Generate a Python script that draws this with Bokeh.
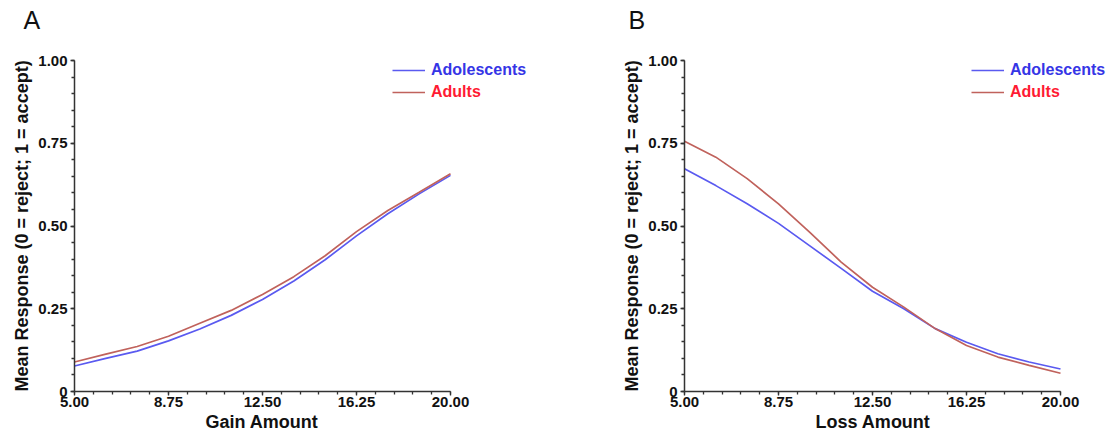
from bokeh.plotting import figure
from bokeh.models import (Legend, LegendItem, FixedTicker, CustomJSTickFormatter,
                          NumeralTickFormatter, Range1d, Title)
from bokeh.layouts import row
from bokeh.embed import file_html
from bokeh.resources import INLINE

# ---- data ----
amounts = [5.0, 6.25, 7.5, 8.75, 10.0, 11.25, 12.5, 13.75, 15.0, 16.25, 17.5, 18.75, 20.0]

gain_adolescents = [0.077, 0.100, 0.122, 0.153, 0.189, 0.230, 0.278, 0.334, 0.398, 0.470, 0.537, 0.597, 0.653]
gain_adults      = [0.089, 0.113, 0.136, 0.167, 0.206, 0.245, 0.293, 0.347, 0.410, 0.483, 0.547, 0.602, 0.658]

loss_adolescents = [0.673, 0.622, 0.567, 0.508, 0.440, 0.372, 0.303, 0.250, 0.190, 0.149, 0.114, 0.089, 0.068]
loss_adults      = [0.756, 0.708, 0.643, 0.567, 0.481, 0.391, 0.315, 0.255, 0.190, 0.139, 0.104, 0.079, 0.055]

x_ticks = [5.0, 8.75, 12.5, 16.25, 20.0]
x_minor = [5.0 + 0.75 * i for i in range(21)]
y_ticks = [0.0, 0.25, 0.5, 0.75, 1.0]
y_minor = [0.05 * i for i in range(21)]

series_names = ["Adolescents", "Adults"]
line_colors = ["#5a5af0", "#c0625c"]
label_colors = ["#3535e6", "#ff1a33"]

FONT = "Liberation Sans"
Y_TITLE = "Mean Response (0 = reject; 1 = accept)"

AXIS_PX = 376   # pixel length of the 5..20 axis
AXIS_H = 331    # pixel length of the 0..1 axis
TOP = 36        # frame top (pixels from canvas top)
BOTTOM_BORDER = 41


def make_panel(xtitle, blue, red, letter, border_left, extra_px, letter_dx, leg_x):
    width, height = 555, 432
    border_right = width - border_left - AXIS_PX - extra_px
    x_end = 20 + 15.0 * extra_px / AXIS_PX
    top_extra = height - BOTTOM_BORDER - AXIS_H - TOP
    y_end = 1 + top_extra / AXIS_H
    p = figure(width=width, height=height, x_range=Range1d(5, x_end), y_range=Range1d(0, y_end),
               output_backend="svg", toolbar_location=None,
               min_border_left=border_left, min_border_right=border_right,
               min_border_top=TOP, min_border_bottom=BOTTOM_BORDER)
    p.outline_line_color = None
    p.grid.visible = False
    p.background_fill_color = "white"
    p.border_fill_color = "white"

    p.title = Title(text=letter, align="left", offset=letter_dx,
                    text_font=FONT, text_font_size="25px", text_font_style="normal",
                    text_color="#111111", standoff=6)

    rb = p.line(amounts, blue, line_color=line_colors[0], line_width=1.7)
    rr = p.line(amounts, red, line_color=line_colors[1], line_width=1.7)

    for ax in (p.xaxis[0], p.yaxis[0]):
        ax.axis_line_color = "#333333"
        ax.axis_line_width = 1.5
        ax.major_tick_line_color = "#333333"
        ax.minor_tick_line_color = "#333333"
        ax.major_tick_line_width = 1.3
        ax.minor_tick_line_width = 1.3
        ax.major_tick_in = 0
        ax.major_tick_out = 4
        ax.minor_tick_in = 0
        ax.minor_tick_out = 3
        ax.major_label_text_font = FONT
        ax.major_label_text_font_style = "bold"
        ax.major_label_text_font_size = "15px"
        ax.major_label_text_color = "#111111"

    p.xaxis[0].ticker = FixedTicker(ticks=x_ticks, minor_ticks=x_minor)
    p.xaxis[0].formatter = NumeralTickFormatter(format="0.00")
    p.xaxis[0].bounds = (5, 20)
    p.xaxis[0].major_label_standoff = 1

    p.yaxis[0].ticker = FixedTicker(ticks=y_ticks, minor_ticks=y_minor)
    p.yaxis[0].formatter = CustomJSTickFormatter(code="return tick == 0 ? '0' : tick.toFixed(2);")
    p.yaxis[0].bounds = (0, 1)
    p.yaxis[0].major_label_standoff = 3

    # axis titles as side-panel titles so they centre on the bounded axes
    x_title_w = 6.33 * 18  # approx. rendered width of the x title
    p.add_layout(Title(text=xtitle, align="left", offset=AXIS_PX / 2 - x_title_w / 2,
                       text_font=FONT, text_font_size="18px", text_font_style="bold",
                       text_color="#111111", standoff=0), "below")
    p.add_layout(Title(text=Y_TITLE, align="left", offset=0,
                       text_font=FONT, text_font_size="18px", text_font_style="bold",
                       text_color="#111111", standoff=8), "left")

    for r, name, col, vy in ((rb, series_names[0], label_colors[0], 311),
                             (rr, series_names[1], label_colors[1], 289)):
        leg = Legend(items=[LegendItem(label=name, renderers=[r])], location=(leg_x, vy),
                     padding=0, margin=0, spacing=0, glyph_width=33, glyph_height=20,
                     label_height=20, label_standoff=6, border_line_color=None,
                     background_fill_alpha=0, label_text_font=FONT,
                     label_text_font_style="bold", label_text_font_size="16px",
                     label_text_color=col, label_text_baseline="middle")
        p.add_layout(leg)
    return p


pA = make_panel("Gain Amount", gain_adolescents, gain_adults, "A", 74, 100, -51, 318)
pB = make_panel("Loss Amount", loss_adolescents, loss_adults, "B", 129, 48, -56, 287)

layout = row(pA, pB)
open("out.html", "w").write(file_html(layout, INLINE))
